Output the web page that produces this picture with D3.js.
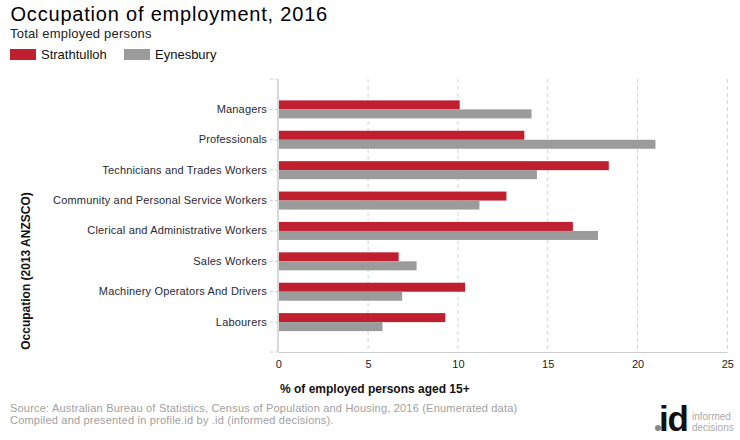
<!DOCTYPE html>
<html><head><meta charset="utf-8">
<script src="https://cdn.jsdelivr.net/npm/d3@7"></script>
<style>
body{margin:0;background:#fff;}
text{font-family:Arial,"Liberation Sans",sans-serif;}
</style></head>
<body><svg id="c" width="740" height="440"></svg>
<script>
const categories = ["Managers","Professionals","Technicians and Trades Workers","Community and Personal Service Workers","Clerical and Administrative Workers","Sales Workers","Machinery Operators And Drivers","Labourers"];
const strathtulloh = [10.1,13.7,18.4,12.7,16.4,6.7,10.4,9.3];
const eynesbury = [14.1,21.0,14.4,11.2,17.8,7.7,6.9,5.8];
const seriesNames = ["Strathtulloh","Eynesbury"];
const colors = ["#c01f2f","#9b9b9b"];
const xTicks = [0,5,10,15,20,25];

const svg = d3.select("#c");
const x = d3.scaleLinear().domain([0,25]).range([278.3,727.3]);
const y = d3.scaleBand().domain(categories).range([79,352.5]).paddingInner(0).paddingOuter(0.5);
const barH = 9;

// title
svg.append("text").attr("x",10.5).attr("y",21).attr("font-size",20).attr("letter-spacing",0.8).attr("fill","#000").text("Occupation of employment, 2016");
svg.append("text").attr("x",10).attr("y",38).attr("font-size",13).attr("letter-spacing",0.2).attr("fill","#222").text("Total employed persons");
const lg = svg.append("g");
const lx = [10,124];
seriesNames.forEach((n,i)=>{
  lg.append("rect").attr("x",lx[i]).attr("y",49).attr("width",26).attr("height",11).attr("fill",colors[i]);
  lg.append("text").attr("x",lx[i]+31).attr("y",59).attr("font-size",13).attr("fill","#111").text(n);
});

// grid
svg.append("g").selectAll("line").data(xTicks.filter(d=>d>0)).join("line")
  .attr("x1",d=>x(d)).attr("x2",d=>x(d)).attr("y1",79).attr("y2",352)
  .attr("stroke","#d3d3d3").attr("stroke-dasharray","4,3");

// y axis
const ya = d3.axisLeft(y).tickSize(8).tickPadding(3);
const yg = svg.append("g").attr("transform","translate(278,0)").call(ya);
yg.select(".domain").remove();
yg.selectAll(".tick line").attr("stroke","#ccc").attr("stroke-dasharray","3,2");
yg.selectAll(".tick text").attr("font-size",11).attr("letter-spacing",0.18).attr("fill","#2a2a35").attr("font-family","Arial, 'Liberation Sans', sans-serif");
svg.append("line").attr("x1",278).attr("x2",278).attr("y1",79).attr("y2",352).attr("stroke","#ccc").attr("stroke-width",1.5);
svg.append("line").attr("x1",270).attr("x2",277).attr("y1",79).attr("y2",79).attr("stroke","#ccc").attr("stroke-dasharray","3,2");
svg.append("line").attr("x1",270).attr("x2",277).attr("y1",352).attr("y2",352).attr("stroke","#ccc").attr("stroke-dasharray","3,2");

// x axis
svg.append("line").attr("x1",278).attr("x2",727.5).attr("y1",352.5).attr("y2",352.5).attr("stroke","#ccc");
const xa = d3.axisBottom(x).tickValues(xTicks).tickSize(0).tickPadding(8);
const xg = svg.append("g").attr("transform","translate(0,352)").call(xa);
xg.select(".domain").remove();
xg.selectAll(".tick text").attr("font-size",11).attr("fill","#222").attr("font-family","Arial, 'Liberation Sans', sans-serif");

// bars
const data = [strathtulloh, eynesbury];
data.forEach((vals,si)=>{
  svg.append("g").selectAll("rect").data(categories).join("rect")
    .attr("x",x(0)+0.7)
    .attr("y",(d)=>y(d)+y.bandwidth()/2 - barH + si*barH)
    .attr("width",(d,i)=>x(vals[i])-x(0)-0.7)
    .attr("height",barH)
    .attr("fill",colors[si]);
});

// axis titles
svg.append("text").attr("x",280).attr("y",393).attr("font-size",12).attr("font-weight","bold").attr("fill","#111").text("% of employed persons aged 15+");
svg.append("text").attr("transform","translate(30,271) rotate(-90)").attr("text-anchor","middle").attr("font-size",12).attr("font-weight","bold").attr("fill","#111").text("Occupation (2013 ANZSCO)");

// source
svg.append("text").attr("x",10).attr("y",412).attr("font-size",11).attr("letter-spacing",0.2).attr("fill","#a0a0a0").text("Source: Australian Bureau of Statistics, Census of Population and Housing, 2016 (Enumerated data)");
svg.append("text").attr("x",10).attr("y",424).attr("font-size",11).attr("letter-spacing",0.2).attr("fill","#a0a0a0").text("Compiled and presented in profile.id by .id (informed decisions).");

// logo
svg.append("circle").attr("cx",658).attr("cy",428).attr("r",3).attr("fill","#888");
svg.append("text").attr("x",688).attr("y",431).attr("text-anchor","end").attr("font-size",35).attr("font-weight","bold").attr("fill","#111").attr("letter-spacing",-1).text("id");
svg.append("text").attr("x",692).attr("y",420).attr("font-size",10).attr("fill","#aaa").text("informed");
svg.append("text").attr("x",692).attr("y",431).attr("font-size",10).attr("fill","#aaa").text("decisions");
</script></body></html>
